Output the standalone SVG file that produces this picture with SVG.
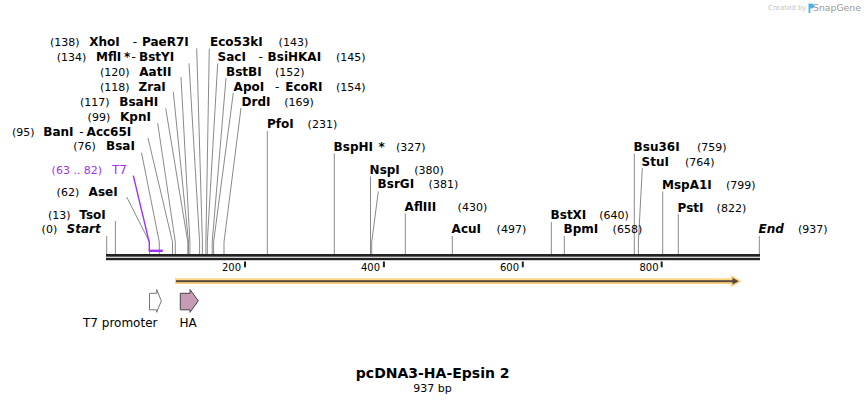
<svg xmlns="http://www.w3.org/2000/svg" width="866" height="404" viewBox="0 0 866 404">
<style>
text{font-family:"DejaVu Sans",Verdana,sans-serif;fill:#000}
.n{font-size:11px;font-weight:normal}
.e{font-size:12px;font-weight:bold}
.d{font-size:12px;font-weight:normal}
.i{font-size:12px;font-weight:bold;font-style:italic}
.p{fill:#a033ee}
.c{stroke:#8a8a8a;stroke-width:1;fill:none}
.t{font-size:10px}
.f{font-size:12px}
</style>
<rect width="866" height="404" fill="#fff"/>
<g id="logo">
<text x="768" y="10" style="font-size:7px;fill:#c4c4c4">Created by</text>
<path d="M808.5,3.5 h3 a2.5,2.5 0 0 1 0,5 h-1.2 v4.5 h-1.8 z" fill="#4fb3e8"/>
<text x="813" y="11" style="font-size:9.3px;fill:#9a9a9a">SnapGene</text>
</g>
<g id="connectors">
<polyline class="c" points="196.7,48.3 202.4,242 202.4,254"/>
<polyline class="c" points="189,63.3 199.6,242 199.6,254"/>
<polyline class="c" points="181,77 189.9,242 189.9,254"/>
<polyline class="c" points="173.3,92 188.5,242 188.5,254"/>
<polyline class="c" points="165.7,108.3 187.8,242 187.8,254"/>
<polyline class="c" points="157.7,123.3 175.3,242 175.3,254"/>
<polyline class="c" points="148,138 172.5,242 172.5,254"/>
<polyline class="c" points="141.5,152.7 159.3,242 159.3,254"/>
<polyline class="c" points="126.7,197 149.5,242 149.5,254"/>
<polyline class="c" points="115.4,221 115.4,254"/>
<polyline class="c" points="106.7,236 106.7,254"/>
<polyline class="c" points="209.3,48.5 205.9,242 205.9,254"/>
<polyline class="c" points="217.7,63.5 207.3,242 207.3,254"/>
<polyline class="c" points="226,78 212.2,242 212.2,254"/>
<polyline class="c" points="233.3,93 213.6,242 213.6,254"/>
<polyline class="c" points="241,108 224,242 224,254"/>
<polyline class="c" points="267.3,131 267.3,254"/>
<polyline class="c" points="334.3,153.5 334.3,254"/>
<polyline class="c" points="370.5,176.5 370.5,254"/>
<polyline class="c" points="378.3,191.5 371.7,242 371.7,254"/>
<polyline class="c" points="405.3,213.5 405.3,254"/>
<polyline class="c" points="452.3,236 452.3,254"/>
<polyline class="c" points="551.3,222 551.3,254"/>
<polyline class="c" points="564.3,236 564.3,254"/>
<polyline class="c" points="634.3,153.5 634.3,254"/>
<polyline class="c" points="642.3,168 638.4,242 638.4,254"/>
<polyline class="c" points="662.7,191.5 662.7,254"/>
<polyline class="c" points="678.3,214 678.3,254"/>
<polyline class="c" points="759.3,236 759.3,254"/>
<polyline points="133.3,175.7 149.3,242.7 149.3,251" fill="none" stroke="#a033ee" stroke-width="1.4"/>
<rect x="148.8" y="249.6" width="14" height="2.4" fill="#a033ee"/>
</g>
<g id="backbone">
<rect x="106" y="254" width="654" height="2.7" fill="#222"/>
<rect x="106" y="257.8" width="654" height="2.4" fill="#222"/>
<rect x="244" y="261.5" width="2" height="5.8" fill="#222"/>
<rect x="382.9" y="261.5" width="2" height="5.8" fill="#222"/>
<rect x="521.8" y="261.5" width="2" height="5.8" fill="#222"/>
<rect x="660.7" y="261.5" width="2" height="5.8" fill="#222"/>
<text class="t" x="241" y="270.7" text-anchor="end">200</text>
<text class="t" x="380" y="270.7" text-anchor="end">400</text>
<text class="t" x="519" y="270.7" text-anchor="end">600</text>
<text class="t" x="658.5" y="270.7" text-anchor="end">800</text>
</g>
<g id="left-labels">
<text y="46"><tspan class="n" x="50">(138)</tspan><tspan class="e" x="89.3">XhoI</tspan><tspan class="d" x="132.7">-</tspan><tspan class="e" x="142">PaeR7I</tspan></text>
<text y="61"><tspan class="n" x="56.7">(134)</tspan><tspan class="e" x="96">MflI</tspan><tspan class="e" x="124">*</tspan><tspan class="d" x="131.5">-</tspan><tspan class="e" x="139">BstYI</tspan></text>
<text y="76"><tspan class="n" x="100">(120)</tspan><tspan class="e" x="139.3">AatII</tspan></text>
<text y="90.8"><tspan class="n" x="100">(118)</tspan><tspan class="e" x="138.6">ZraI</tspan></text>
<text y="105.7"><tspan class="n" x="80">(117)</tspan><tspan class="e" x="119.3">BsaHI</tspan></text>
<text y="120.5"><tspan class="n" x="87.6">(99)</tspan><tspan class="e" x="120">KpnI</tspan></text>
<text y="135.5"><tspan class="n" x="12">(95)</tspan><tspan class="e" x="43.3">BanI</tspan><tspan class="d" x="79.3">-</tspan><tspan class="e" x="86.6">Acc65I</tspan></text>
<text y="150.3"><tspan class="n" x="73.3">(76)</tspan><tspan class="e" x="106">BsaI</tspan></text>
<text y="174"><tspan class="n p" x="51.6">(63 .. 82)</tspan><tspan class="d p" x="112">T7</tspan></text>
<text y="196"><tspan class="n" x="56.6">(62)</tspan><tspan class="e" x="88.6">AseI</tspan></text>
<text y="218.7"><tspan class="n" x="48">(13)</tspan><tspan class="e" x="79.3">TsoI</tspan></text>
<text y="233.4"><tspan class="n" x="41.6">(0)</tspan><tspan class="i" x="66.6">Start</tspan></text>
</g>
<g id="right-labels">
<text y="46"><tspan class="e" x="210">Eco53kI</tspan><tspan class="n" x="278.6">(143)</tspan></text>
<text y="61"><tspan class="e" x="217.6">SacI</tspan><tspan class="d" x="258.6">-</tspan><tspan class="e" x="267.6">BsiHKAI</tspan><tspan class="n" x="336">(145)</tspan></text>
<text y="76"><tspan class="e" x="226">BstBI</tspan><tspan class="n" x="275">(152)</tspan></text>
<text y="90.8"><tspan class="e" x="233.6">ApoI</tspan><tspan class="d" x="275">-</tspan><tspan class="e" x="285.3">EcoRI</tspan><tspan class="n" x="336">(154)</tspan></text>
<text y="105.7"><tspan class="e" x="241.6">DrdI</tspan><tspan class="n" x="284.3">(169)</tspan></text>
<text y="128.3"><tspan class="e" x="267">PfoI</tspan><tspan class="n" x="307.6">(231)</tspan></text>
<text y="150.7"><tspan class="e" x="333.6">BspHI</tspan><tspan class="e" x="378.6">*</tspan><tspan class="n" x="396">(327)</tspan></text>
<text y="174"><tspan class="e" x="369.6">NspI</tspan><tspan class="n" x="414.3">(380)</tspan></text>
<text y="188.3"><tspan class="e" x="377.6">BsrGI</tspan><tspan class="n" x="428.6">(381)</tspan></text>
<text y="211"><tspan class="e" x="404.6">AflIII</tspan><tspan class="n" x="457.6">(430)</tspan></text>
<text y="233.4"><tspan class="e" x="451.6">AcuI</tspan><tspan class="n" x="496.6">(497)</tspan></text>
<text y="219.3"><tspan class="e" x="550.6">BstXI</tspan><tspan class="n" x="599.3">(640)</tspan></text>
<text y="233.4"><tspan class="e" x="563.6">BpmI</tspan><tspan class="n" x="612.6">(658)</tspan></text>
<text y="150.7"><tspan class="e" x="633.6">Bsu36I</tspan><tspan class="n" x="697">(759)</tspan></text>
<text y="166"><tspan class="e" x="641.6">StuI</tspan><tspan class="n" x="685">(764)</tspan></text>
<text y="189"><tspan class="e" x="662">MspA1I</tspan><tspan class="n" x="726">(799)</tspan></text>
<text y="211.7"><tspan class="e" x="677.6">PstI</tspan><tspan class="n" x="716.6">(822)</tspan></text>
<text y="233.4"><tspan class="i" x="758.6">End</tspan><tspan class="n" x="798">(937)</tspan></text>
</g>
<g id="orf">
<rect x="175" y="278.3" width="558" height="5.8" fill="#fdd281"/>
<polygon points="731,275 741.5,281.2 731,287.2" fill="#fdd281"/>
<rect x="176" y="280.2" width="558" height="2" fill="#574a3c"/>
<polygon points="732.5,277.8 738.8,281.2 732.5,284.5" fill="#574a3c"/>
</g>
<g id="t7-promoter">
<polygon points="149.5,293.3 156.7,293.3 156.7,289.5 161.3,300.8 156.7,312.3 156.7,309.8 149.5,309.8" fill="#fff" stroke="#777" stroke-width="1"/>
<text class="f" x="83" y="327">T7 promoter</text>
</g>
<g id="ha">
<polygon points="180.3,293.3 190,293.3 190,289.5 198.3,300.8 190,312.3 190,309.8 180.3,309.8" fill="#c99ab5" stroke="#444" stroke-width="1"/>
<text class="f" x="179.5" y="327">HA</text>
</g>
<g id="title">
<text x="432.7" y="378" text-anchor="middle" style="font-size:14px;font-weight:bold">pcDNA3-HA-Epsin 2</text>
<text x="432.5" y="391.5" text-anchor="middle" style="font-size:11px">937 bp</text>
</g>
</svg>
